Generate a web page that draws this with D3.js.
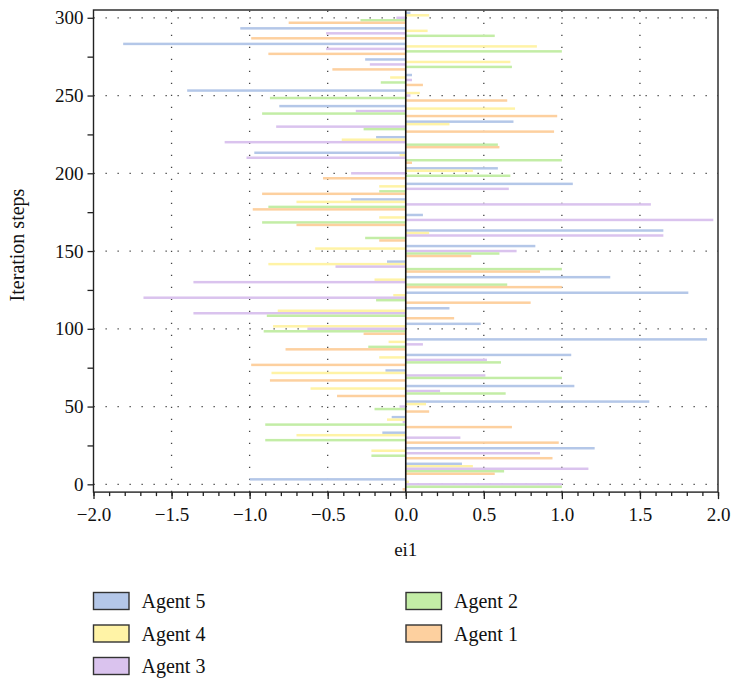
<!DOCTYPE html>
<html><head><meta charset="utf-8">
<script src="https://cdn.jsdelivr.net/npm/d3@7"></script>
<style>body{margin:0;background:#fff;} svg{display:block;font-family:"Liberation Serif","DejaVu Serif",serif;} svg text{font-family:"Liberation Serif","DejaVu Serif",serif !important;}</style>
</head><body><svg id="c" width="733" height="680"></svg>
<script>
const steps = [0,10,20,30,40,50,60,70,80,90,100,110,120,130,140,150,160,170,180,190,200,210,220,230,240,250,260,270,280,290,300];
const agent5 = [-1.0,0.36,1.21,-0.15,-0.09,1.56,1.08,-0.13,1.06,1.93,0.48,0.28,1.81,1.31,-0.12,0.83,1.65,0.11,-0.35,1.07,0.59,-0.97,-0.19,0.69,-0.81,-1.40,0.04,-0.26,-1.81,-1.06,0.03];
const agent4 = [0.02,0.43,-0.22,-0.70,-0.12,0.13,-0.61,-0.86,-0.17,-0.11,-0.85,-0.82,-0.08,-0.20,-0.88,-0.58,0.15,-0.17,-0.70,-0.17,0.43,-0.04,-0.41,0.28,0.70,0.09,-0.10,0.67,0.84,0.14,0.15];
const agent3 = [1.0,1.17,0.86,0.35,-0.02,-0.04,0.22,0.51,0.52,0.11,-0.63,-1.36,-1.68,-1.36,-0.45,0.71,1.65,1.97,1.57,0.66,-0.35,-1.02,-1.16,-0.83,-0.32,0.03,0.04,-0.23,-0.51,-0.51,-0.06];
const agent2 = [1.0,0.63,-0.22,-0.90,-0.90,-0.20,0.64,1.0,0.61,-0.24,-0.91,-0.89,-0.19,0.65,1.0,0.60,-0.26,-0.92,-0.88,-0.17,0.67,1.0,0.59,-0.27,-0.92,-0.87,-0.16,0.68,1.0,0.57,-0.29];
const agent1 = [-0.02,0.57,0.94,0.98,0.68,0.15,-0.44,-0.87,-0.99,-0.77,-0.27,0.31,0.80,1.0,0.86,0.42,-0.17,-0.70,-0.98,-0.92,-0.53,0.04,0.60,0.95,0.97,0.65,0.11,-0.47,-0.88,-0.99,-0.75];
const agentNames = ["Agent 5","Agent 4","Agent 3","Agent 2","Agent 1"];
const xTicks = [-2,-1.5,-1,-0.5,0,0.5,1,1.5,2];
const yTicks = [0,50,100,150,200,250,300];

const series = [agent5, agent4, agent3, agent2, agent1];
const colors = ["#b4c7e8","#fff3a6","#dac3ee","#c3eda6","#fdd09f"];

const svg = d3.select("#c");
const L = 93.5, R = 718, T = 10, B = 492.1;
const x = d3.scaleLinear().domain([-2,2]).range([L,R]);
const y = d3.scaleLinear().domain([-5,305]).range([B,T]);
const groupW = 8, barW = groupW/5;

// grid
const g = svg.append("g");
g.selectAll("line.vg").data(xTicks.filter(d=>d>-2&&d<2&&d!==0)).join("line")
  .attr("x1",d=>x(d)).attr("x2",d=>x(d)).attr("y1",B).attr("y2",T)
  .attr("stroke","#444").attr("stroke-width",1.3).attr("stroke-dasharray","1.3 10.7");
g.selectAll("line.hg").data(yTicks.filter(d=>d>0)).join("line")
  .attr("y1",d=>y(d)).attr("y2",d=>y(d)).attr("x1",L).attr("x2",R)
  .attr("stroke","#444").attr("stroke-width",1.3).attr("stroke-dasharray","1.3 10.7");
g.append("line").attr("y1",y(0)).attr("y2",y(0)).attr("x1",L).attr("x2",R)
  .attr("stroke","#444").attr("stroke-width",1.3).attr("stroke-dasharray","1.3 10.7");

// bars
series.forEach((vals,i)=>{
  const off = (2 - i)*barW;
  svg.append("g").selectAll("rect").data(steps.map((s,k)=>({s,v:vals[k]}))).join("rect")
    .attr("x",d=>x(Math.min(0,d.v)))
    .attr("width",d=>Math.abs(x(d.v)-x(0)))
    .attr("y",d=>y(d.s+off+barW/2))
    .attr("height",d=>y(d.s+off-barW/2)-y(d.s+off+barW/2))
    .attr("fill",colors[i]);
});

// zero line
svg.append("line").attr("x1",x(0)).attr("x2",x(0)).attr("y1",T).attr("y2",B)
  .attr("stroke","#111").attr("stroke-width",1.6);

// axes
const fmt = d3.format(".1f");
svg.append("g").attr("transform",`translate(0,${B})`)
  .call(d3.axisBottom(x).tickValues(xTicks).tickFormat(fmt).tickSize(7).tickPadding(8));
svg.append("g").attr("transform",`translate(0,${B})`)
  .call(d3.axisBottom(x).ticks(40).tickFormat("").tickSize(4));
svg.append("g").attr("transform",`translate(${L},0)`)
  .call(d3.axisLeft(y).tickValues(yTicks).tickSize(6).tickPadding(4));
svg.append("g").attr("transform",`translate(${L},0)`)
  .call(d3.axisLeft(y).tickValues([25,75,125,175,225,275]).tickFormat("").tickSize(6));
svg.selectAll(".domain").remove();
svg.selectAll("g[font-family]").attr("font-family","Liberation Serif");
svg.selectAll(".tick line").attr("stroke","#222").attr("stroke-width",1.3);
svg.selectAll(".tick text").attr("font-size",19).attr("fill","#111");

// frame
svg.append("rect").attr("x",L).attr("y",T).attr("width",R-L).attr("height",B-T)
  .attr("fill","none").attr("stroke","#222").attr("stroke-width",1.4);

// labels
svg.append("text").attr("x",(L+R)/2).attr("y",556).attr("text-anchor","middle")
  .attr("font-size",19).attr("fill","#111").text("ei1");
svg.append("text").attr("transform",`translate(24,245) rotate(-90)`).attr("text-anchor","middle")
  .attr("font-size",20).attr("fill","#111").text("Iteration steps");

// legend
const legendCol = [0,0,0,1,1];
const legendRow = [0,1,2,0,1];
agentNames.forEach((n,i)=>{
  const lx = legendCol[i] ? 406 : 93.5;
  const ly = 592.5 + legendRow[i]*32.5;
  svg.append("rect").attr("x",lx).attr("y",ly).attr("width",35.5).attr("height",17)
    .attr("fill",colors[i]).attr("stroke","#333").attr("stroke-width",1.4);
  svg.append("text").attr("x",lx+48).attr("y",ly+8.5).attr("dominant-baseline","central")
    .attr("font-size",20).attr("fill","#111").text(n);
});
</script></body></html>
